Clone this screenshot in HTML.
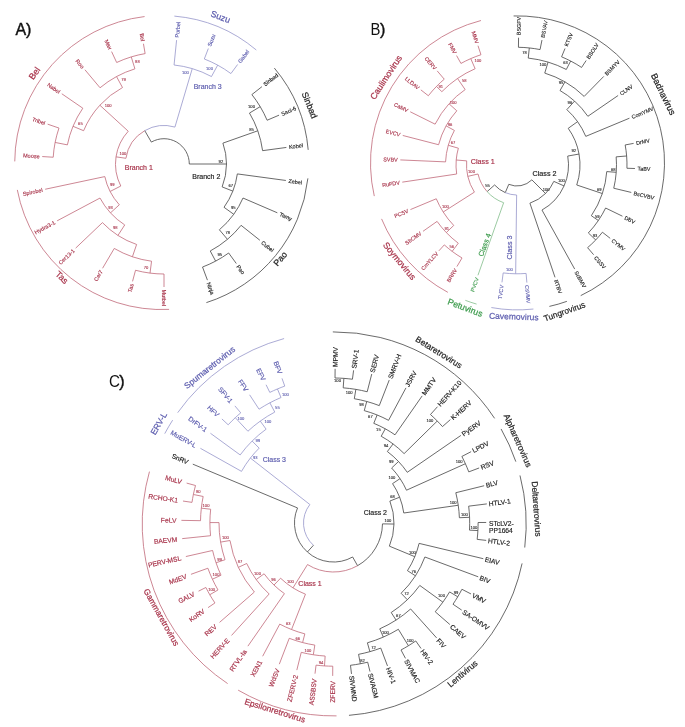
<!DOCTYPE html>
<html><head><meta charset="utf-8"><style>
html,body{margin:0;padding:0;background:#fff;}
svg{display:block;}
svg text{font-family:"Liberation Sans",Arial,sans-serif;}
</style></head><body>
<svg width="685" height="727" viewBox="0 0 685 727">
<rect width="685" height="727" fill="#fff"/>
<g fill="none" stroke-width="0.8">
<path d="M151.35,142.09A25.30,25.30 0 0 1 189.30,164.00" stroke="#444444"/>
<line x1="151.35" y1="142.09" x2="144.75" y2="130.66" stroke="#444444"/>
<path d="M144.75,130.66A38.50,38.50 0 0 0 125.92,158.31" stroke="#c06878"/>
<line x1="125.92" y1="158.31" x2="116.03" y2="156.83" stroke="#c06878"/>
<path d="M116.03,156.83A48.50,48.50 0 0 1 128.24,131.23" stroke="#c06878"/>
<line x1="128.24" y1="131.23" x2="99.86" y2="105.22" stroke="#c06878"/>
<path d="M99.86,105.22A87.00,87.00 0 0 1 122.49,87.54" stroke="#c06878"/>
<line x1="122.49" y1="87.54" x2="116.52" y2="76.56" stroke="#c06878"/>
<path d="M116.52,76.56A99.50,99.50 0 0 1 134.91,68.85" stroke="#c06878"/>
<line x1="134.91" y1="68.85" x2="131.25" y2="56.89" stroke="#c06878"/>
<path d="M131.25,56.89A112.00,112.00 0 0 1 145.13,53.60" stroke="#c06878"/>
<line x1="145.13" y1="53.60" x2="143.44" y2="43.74" stroke="#c06878"/>
<text x="143.01" y="41.18" font-size="5.5" fill="#a8334a" stroke="#a8334a" stroke-width="0.138" text-anchor="end" dominant-baseline="central" transform="rotate(80.3 143.01 41.18)">Bel</text>
<path d="M131.25,56.89A112.00,112.00 0 0 0 116.67,62.49" stroke="#c06878"/>
<line x1="116.67" y1="62.49" x2="111.60" y2="51.62" stroke="#c06878"/>
<text x="110.50" y="49.26" font-size="5.5" fill="#a8334a" stroke="#a8334a" stroke-width="0.138" text-anchor="end" dominant-baseline="central" transform="rotate(65.0 110.50 49.26)">Max</text>
<path d="M116.52,76.56A99.50,99.50 0 0 0 100.04,87.78" stroke="#c06878"/>
<line x1="100.04" y1="87.78" x2="84.94" y2="69.78" stroke="#c06878"/>
<text x="83.27" y="67.78" font-size="5.5" fill="#a8334a" stroke="#a8334a" stroke-width="0.138" text-anchor="end" dominant-baseline="central" transform="rotate(50.0 83.27 67.78)">Roo</text>
<path d="M99.86,105.22A87.00,87.00 0 0 0 83.62,130.71" stroke="#c06878"/>
<line x1="83.62" y1="130.71" x2="73.00" y2="126.31" stroke="#c06878"/>
<path d="M73.00,126.31A98.50,98.50 0 0 1 82.82,108.21" stroke="#c06878"/>
<line x1="82.82" y1="108.21" x2="61.81" y2="93.77" stroke="#c06878"/>
<text x="59.67" y="92.29" font-size="5.5" fill="#a8334a" stroke="#a8334a" stroke-width="0.138" text-anchor="end" dominant-baseline="central" transform="rotate(34.5 59.67 92.29)">Nabel</text>
<path d="M73.00,126.31A98.50,98.50 0 0 0 67.38,144.87" stroke="#c06878"/>
<line x1="67.38" y1="144.87" x2="55.11" y2="142.44" stroke="#c06878"/>
<path d="M55.11,142.44A111.00,111.00 0 0 1 58.98,128.05" stroke="#c06878"/>
<line x1="58.98" y1="128.05" x2="47.63" y2="124.16" stroke="#c06878"/>
<text x="45.17" y="123.32" font-size="5.5" fill="#a8334a" stroke="#a8334a" stroke-width="0.138" text-anchor="end" dominant-baseline="central" transform="rotate(18.9 45.17 123.32)">Tribel</text>
<path d="M55.11,142.44A111.00,111.00 0 0 0 53.21,157.22" stroke="#c06878"/>
<line x1="53.21" y1="157.22" x2="42.23" y2="156.55" stroke="#c06878"/>
<text x="39.63" y="156.39" font-size="5.5" fill="#a8334a" stroke="#a8334a" stroke-width="0.138" text-anchor="end" dominant-baseline="central" transform="rotate(3.5 39.63 156.39)">Moose</text>
<path d="M116.03,156.83A48.50,48.50 0 0 0 120.79,186.02" stroke="#c06878"/>
<line x1="120.79" y1="186.02" x2="110.09" y2="191.47" stroke="#c06878"/>
<path d="M110.09,191.47A60.50,60.50 0 0 1 104.82,176.58" stroke="#c06878"/>
<line x1="104.82" y1="176.58" x2="45.16" y2="189.26" stroke="#c06878"/>
<text x="42.61" y="189.80" font-size="5.5" fill="#a8334a" stroke="#a8334a" stroke-width="0.138" text-anchor="end" dominant-baseline="central" transform="rotate(348.0 42.61 189.80)">Spirobel</text>
<path d="M110.09,191.47A60.50,60.50 0 0 0 119.32,204.80" stroke="#c06878"/>
<line x1="119.32" y1="204.80" x2="110.46" y2="212.89" stroke="#c06878"/>
<path d="M110.46,212.89A72.50,72.50 0 0 1 99.99,198.04" stroke="#c06878"/>
<line x1="99.99" y1="198.04" x2="57.16" y2="220.81" stroke="#c06878"/>
<text x="54.87" y="222.03" font-size="5.5" fill="#a8334a" stroke="#a8334a" stroke-width="0.138" text-anchor="end" dominant-baseline="central" transform="rotate(332.0 54.87 222.03)">Hydra3-1</text>
<path d="M110.46,212.89A72.50,72.50 0 0 0 124.73,224.94" stroke="#c06878"/>
<line x1="124.73" y1="224.94" x2="117.95" y2="235.45" stroke="#c06878"/>
<path d="M117.95,235.45A85.00,85.00 0 0 1 102.45,222.62" stroke="#c06878"/>
<line x1="102.45" y1="222.62" x2="75.65" y2="248.13" stroke="#c06878"/>
<text x="73.77" y="249.93" font-size="5.5" fill="#a8334a" stroke="#a8334a" stroke-width="0.138" text-anchor="end" dominant-baseline="central" transform="rotate(316.4 73.77 249.93)">Cer13-1</text>
<path d="M117.95,235.45A85.00,85.00 0 0 0 136.61,244.47" stroke="#c06878"/>
<line x1="136.61" y1="244.47" x2="132.42" y2="256.77" stroke="#c06878"/>
<path d="M132.42,256.77A98.00,98.00 0 0 1 114.26,248.44" stroke="#c06878"/>
<line x1="114.26" y1="248.44" x2="102.59" y2="268.26" stroke="#c06878"/>
<text x="101.27" y="270.50" font-size="5.5" fill="#a8334a" stroke="#a8334a" stroke-width="0.138" text-anchor="end" dominant-baseline="central" transform="rotate(300.5 101.27 270.50)">Cer7</text>
<path d="M132.42,256.77A98.00,98.00 0 0 0 151.55,261.21" stroke="#c06878"/>
<line x1="151.55" y1="261.21" x2="150.02" y2="273.11" stroke="#c06878"/>
<path d="M150.02,273.11A110.00,110.00 0 0 1 135.53,270.25" stroke="#c06878"/>
<line x1="135.53" y1="270.25" x2="132.55" y2="281.36" stroke="#c06878"/>
<text x="131.88" y="283.87" font-size="5.5" fill="#a8334a" stroke="#a8334a" stroke-width="0.138" text-anchor="end" dominant-baseline="central" transform="rotate(285.0 131.88 283.87)">Tas</text>
<path d="M150.02,273.11A110.00,110.00 0 0 0 164.00,274.00" stroke="#c06878"/>
<line x1="164.00" y1="274.00" x2="164.00" y2="287.00" stroke="#c06878"/>
<text x="164.00" y="289.60" font-size="5.5" fill="#a8334a" stroke="#a8334a" stroke-width="0.138" text-anchor="start" dominant-baseline="central" transform="rotate(90.0 164.00 289.60)">Mutbel</text>
<path d="M144.75,130.66A38.50,38.50 0 0 1 174.93,127.09" stroke="#9696ca"/>
<line x1="174.93" y1="127.09" x2="192.26" y2="68.60" stroke="#9696ca"/>
<path d="M192.26,68.60A99.50,99.50 0 0 0 174.06,65.01" stroke="#9696ca"/>
<line x1="174.06" y1="65.01" x2="176.58" y2="40.14" stroke="#9696ca"/>
<text x="176.84" y="37.55" font-size="5.5" fill="#5c5cae" stroke="#5c5cae" stroke-width="0.138" text-anchor="start" dominant-baseline="central" transform="rotate(-84.2 176.84 37.55)">Purbel</text>
<path d="M192.26,68.60A99.50,99.50 0 0 1 211.48,76.56" stroke="#9696ca"/>
<line x1="211.48" y1="76.56" x2="217.68" y2="65.13" stroke="#9696ca"/>
<path d="M217.68,65.13A112.50,112.50 0 0 0 204.32,58.97" stroke="#9696ca"/>
<line x1="204.32" y1="58.97" x2="208.33" y2="48.52" stroke="#9696ca"/>
<text x="209.26" y="46.09" font-size="5.5" fill="#5c5cae" stroke="#5c5cae" stroke-width="0.138" text-anchor="start" dominant-baseline="central" transform="rotate(-69.0 209.26 46.09)">Suzu</text>
<path d="M217.68,65.13A112.50,112.50 0 0 1 230.92,73.57" stroke="#9696ca"/>
<line x1="230.92" y1="73.57" x2="237.64" y2="64.48" stroke="#9696ca"/>
<text x="239.19" y="62.39" font-size="5.5" fill="#5c5cae" stroke="#5c5cae" stroke-width="0.138" text-anchor="start" dominant-baseline="central" transform="rotate(-53.5 239.19 62.39)">Gabel</text>
<line x1="189.30" y1="164.00" x2="226.50" y2="164.00" stroke="#444444"/>
<path d="M226.50,164.00A62.50,62.50 0 0 0 222.92,143.14" stroke="#444444"/>
<line x1="222.92" y1="143.14" x2="257.79" y2="130.79" stroke="#444444"/>
<path d="M257.79,130.79A99.50,99.50 0 0 0 249.47,113.05" stroke="#444444"/>
<line x1="249.47" y1="113.05" x2="260.20" y2="106.65" stroke="#444444"/>
<path d="M260.20,106.65A112.00,112.00 0 0 0 251.89,94.58" stroke="#444444"/>
<line x1="251.89" y1="94.58" x2="261.94" y2="86.65" stroke="#444444"/>
<text x="263.98" y="85.04" font-size="5.5" fill="#1e1e1e" stroke="#1e1e1e" stroke-width="0.138" text-anchor="start" dominant-baseline="central" transform="rotate(-38.3 263.98 85.04)">Sinbad</text>
<path d="M260.20,106.65A112.00,112.00 0 0 1 267.10,120.24" stroke="#444444"/>
<line x1="267.10" y1="120.24" x2="279.06" y2="115.16" stroke="#444444"/>
<text x="281.46" y="114.14" font-size="5.5" fill="#1e1e1e" stroke="#1e1e1e" stroke-width="0.138" text-anchor="start" dominant-baseline="central" transform="rotate(-23.0 281.46 114.14)">Saci-6</text>
<path d="M257.79,130.79A99.50,99.50 0 0 1 262.60,150.67" stroke="#444444"/>
<line x1="262.60" y1="150.67" x2="286.39" y2="147.45" stroke="#444444"/>
<text x="288.96" y="147.10" font-size="5.5" fill="#1e1e1e" stroke="#1e1e1e" stroke-width="0.138" text-anchor="start" dominant-baseline="central" transform="rotate(-7.7 288.96 147.10)">Kobel</text>
<path d="M226.50,164.00A62.50,62.50 0 0 1 222.15,186.91" stroke="#444444"/>
<line x1="222.15" y1="186.91" x2="232.85" y2="191.12" stroke="#444444"/>
<path d="M232.85,191.12A74.00,74.00 0 0 0 237.33,173.91" stroke="#444444"/>
<line x1="237.33" y1="173.91" x2="285.89" y2="180.48" stroke="#444444"/>
<text x="288.47" y="180.83" font-size="5.5" fill="#1e1e1e" stroke="#1e1e1e" stroke-width="0.138" text-anchor="start" dominant-baseline="central" transform="rotate(7.7 288.47 180.83)">Zebel</text>
<path d="M232.85,191.12A74.00,74.00 0 0 1 224.02,207.29" stroke="#444444"/>
<line x1="224.02" y1="207.29" x2="233.75" y2="214.31" stroke="#444444"/>
<path d="M233.75,214.31A86.00,86.00 0 0 0 242.99,198.02" stroke="#444444"/>
<line x1="242.99" y1="198.02" x2="277.34" y2="212.81" stroke="#444444"/>
<text x="279.72" y="213.84" font-size="5.5" fill="#1e1e1e" stroke="#1e1e1e" stroke-width="0.138" text-anchor="start" dominant-baseline="central" transform="rotate(23.3 279.72 213.84)">Tamy</text>
<path d="M233.75,214.31A86.00,86.00 0 0 1 219.39,229.78" stroke="#444444"/>
<line x1="219.39" y1="229.78" x2="227.45" y2="239.34" stroke="#444444"/>
<path d="M227.45,239.34A98.50,98.50 0 0 0 241.09,225.32" stroke="#444444"/>
<line x1="241.09" y1="225.32" x2="259.87" y2="240.26" stroke="#444444"/>
<text x="261.90" y="241.88" font-size="5.5" fill="#1e1e1e" stroke="#1e1e1e" stroke-width="0.138" text-anchor="start" dominant-baseline="central" transform="rotate(38.5 261.90 241.88)">Cubel</text>
<path d="M227.45,239.34A98.50,98.50 0 0 1 210.24,250.97" stroke="#444444"/>
<line x1="210.24" y1="250.97" x2="215.64" y2="261.12" stroke="#444444"/>
<path d="M215.64,261.12A110.00,110.00 0 0 0 228.66,252.99" stroke="#444444"/>
<line x1="228.66" y1="252.99" x2="236.30" y2="263.51" stroke="#444444"/>
<text x="237.83" y="265.61" font-size="5.5" fill="#1e1e1e" stroke="#1e1e1e" stroke-width="0.138" text-anchor="start" dominant-baseline="central" transform="rotate(54.0 237.83 265.61)">Pao</text>
<path d="M215.64,261.12A110.00,110.00 0 0 1 202.52,267.03" stroke="#444444"/>
<line x1="202.52" y1="267.03" x2="207.43" y2="280.15" stroke="#444444"/>
<text x="208.34" y="282.58" font-size="5.5" fill="#1e1e1e" stroke="#1e1e1e" stroke-width="0.138" text-anchor="start" dominant-baseline="central" transform="rotate(69.5 208.34 282.58)">Ninja</text>
<path d="M14.75,161.40A147.00,147.00 0 0 1 144.59,16.56" stroke="#c06878"/>
<path d="M17.32,189.91A147.00,147.00 0 0 0 169.08,309.38" stroke="#c06878"/>
<path d="M174.35,16.10A147.00,147.00 0 0 1 256.30,50.00" stroke="#9696ca"/>
<path d="M274.37,68.08A147.00,147.00 0 0 1 308.20,149.85" stroke="#444444"/>
<path d="M307.90,178.36A147.00,147.00 0 0 1 206.38,302.62" stroke="#444444"/>
<text x="34.57" y="73.37" font-size="8.9" fill="#a8334a" stroke="#a8334a" stroke-width="0.223" text-anchor="middle" dominant-baseline="central" transform="rotate(-55.0 34.57 73.37)">Bel</text>
<text x="61.80" y="277.50" font-size="8.9" fill="#a8334a" stroke="#a8334a" stroke-width="0.223" text-anchor="middle" dominant-baseline="central" transform="rotate(42.0 61.80 277.50)">Tas</text>
<text x="220.44" y="16.96" font-size="8.9" fill="#5c5cae" stroke="#5c5cae" stroke-width="0.223" text-anchor="middle" dominant-baseline="central" transform="rotate(21.0 220.44 16.96)">Suzu</text>
<text x="309.57" y="105.19" font-size="8.9" fill="#1e1e1e" stroke="#1e1e1e" stroke-width="0.223" text-anchor="middle" dominant-baseline="central" transform="rotate(68.0 309.57 105.19)">Sinbad</text>
<text x="280.30" y="258.80" font-size="8.9" fill="#1e1e1e" stroke="#1e1e1e" stroke-width="0.223" text-anchor="middle" dominant-baseline="central" transform="rotate(-50.0 280.30 258.80)">Pao</text>
<text x="137.40" y="61.60" font-size="4.1" fill="#a8334a" stroke="#a8334a" stroke-width="0.102" text-anchor="middle" dominant-baseline="central">88</text>
<text x="123.50" y="79.90" font-size="4.1" fill="#a8334a" stroke="#a8334a" stroke-width="0.102" text-anchor="middle" dominant-baseline="central">79</text>
<text x="108.20" y="105.40" font-size="4.1" fill="#a8334a" stroke="#a8334a" stroke-width="0.102" text-anchor="middle" dominant-baseline="central">100</text>
<text x="80.40" y="123.80" font-size="4.1" fill="#a8334a" stroke="#a8334a" stroke-width="0.102" text-anchor="middle" dominant-baseline="central">65</text>
<text x="122.80" y="153.00" font-size="4.1" fill="#a8334a" stroke="#a8334a" stroke-width="0.102" text-anchor="middle" dominant-baseline="central">100</text>
<text x="112.30" y="184.80" font-size="4.1" fill="#a8334a" stroke="#a8334a" stroke-width="0.102" text-anchor="middle" dominant-baseline="central">99</text>
<text x="110.50" y="207.00" font-size="4.1" fill="#a8334a" stroke="#a8334a" stroke-width="0.102" text-anchor="middle" dominant-baseline="central">93</text>
<text x="115.20" y="227.90" font-size="4.1" fill="#a8334a" stroke="#a8334a" stroke-width="0.102" text-anchor="middle" dominant-baseline="central">98</text>
<text x="146.00" y="267.70" font-size="4.1" fill="#a8334a" stroke="#a8334a" stroke-width="0.102" text-anchor="middle" dominant-baseline="central">70</text>
<text x="185.40" y="72.80" font-size="4.1" fill="#5c5cae" stroke="#5c5cae" stroke-width="0.102" text-anchor="middle" dominant-baseline="central">100</text>
<text x="209.50" y="68.10" font-size="4.1" fill="#5c5cae" stroke="#5c5cae" stroke-width="0.102" text-anchor="middle" dominant-baseline="central">100</text>
<text x="251.50" y="106.40" font-size="4.1" fill="#1e1e1e" stroke="#1e1e1e" stroke-width="0.102" text-anchor="middle" dominant-baseline="central">100</text>
<text x="251.50" y="129.30" font-size="4.1" fill="#1e1e1e" stroke="#1e1e1e" stroke-width="0.102" text-anchor="middle" dominant-baseline="central">85</text>
<text x="220.90" y="161.00" font-size="4.1" fill="#1e1e1e" stroke="#1e1e1e" stroke-width="0.102" text-anchor="middle" dominant-baseline="central">92</text>
<text x="230.70" y="185.10" font-size="4.1" fill="#1e1e1e" stroke="#1e1e1e" stroke-width="0.102" text-anchor="middle" dominant-baseline="central">67</text>
<text x="233.30" y="207.90" font-size="4.1" fill="#1e1e1e" stroke="#1e1e1e" stroke-width="0.102" text-anchor="middle" dominant-baseline="central">95</text>
<text x="227.70" y="232.70" font-size="4.1" fill="#1e1e1e" stroke="#1e1e1e" stroke-width="0.102" text-anchor="middle" dominant-baseline="central">78</text>
<text x="219.70" y="254.90" font-size="4.1" fill="#1e1e1e" stroke="#1e1e1e" stroke-width="0.102" text-anchor="middle" dominant-baseline="central">95</text>
<text x="15.50" y="34.60" font-size="16" fill="#111" stroke="#111" stroke-width="0.400" text-anchor="start" dominant-baseline="auto">A</text>
<text x="26.00" y="34.60" font-size="16" fill="#111" stroke="#111" stroke-width="0.400" text-anchor="start" dominant-baseline="auto">)</text>
<text x="138.80" y="167.50" font-size="7" fill="#a8334a" stroke="#a8334a" stroke-width="0.175" text-anchor="middle" dominant-baseline="central">Branch 1</text>
<text x="206.30" y="176.70" font-size="7" fill="#1e1e1e" stroke="#1e1e1e" stroke-width="0.175" text-anchor="middle" dominant-baseline="central">Branch 2</text>
<text x="207.70" y="86.60" font-size="7" fill="#5c5cae" stroke="#5c5cae" stroke-width="0.175" text-anchor="middle" dominant-baseline="central">Branch 3</text>
<path d="M508.79,184.33A21.00,21.00 0 0 0 531.85,179.85" stroke="#444444"/>
<line x1="508.79" y1="184.33" x2="505.28" y2="192.62" stroke="#444444"/>
<path d="M505.28,192.62A30.00,30.00 0 0 1 494.60,184.96" stroke="#444444"/>
<line x1="494.60" y1="184.96" x2="487.13" y2="191.61" stroke="#444444"/>
<path d="M487.13,191.61A40.00,40.00 0 0 1 478.03,174.00" stroke="#c06878"/>
<line x1="478.03" y1="174.00" x2="467.79" y2="176.36" stroke="#c06878"/>
<path d="M467.79,176.36A50.50,50.50 0 0 1 466.67,160.86" stroke="#c06878"/>
<line x1="466.67" y1="160.86" x2="456.21" y2="160.00" stroke="#c06878"/>
<path d="M456.21,160.00A61.00,61.00 0 0 1 458.36,148.19" stroke="#c06878"/>
<line x1="458.36" y1="148.19" x2="448.27" y2="145.29" stroke="#c06878"/>
<path d="M448.27,145.29A71.50,71.50 0 0 1 454.40,130.45" stroke="#c06878"/>
<line x1="454.40" y1="130.45" x2="446.09" y2="125.85" stroke="#c06878"/>
<path d="M446.09,125.85A81.00,81.00 0 0 1 456.81,110.80" stroke="#c06878"/>
<line x1="456.81" y1="110.80" x2="449.00" y2="103.77" stroke="#c06878"/>
<path d="M449.00,103.77A91.50,91.50 0 0 1 465.17,89.59" stroke="#c06878"/>
<line x1="465.17" y1="89.59" x2="457.53" y2="78.47" stroke="#c06878"/>
<path d="M457.53,78.47A105.00,105.00 0 0 1 475.13,68.71" stroke="#c06878"/>
<line x1="475.13" y1="68.71" x2="470.75" y2="58.62" stroke="#c06878"/>
<path d="M470.75,58.62A116.00,116.00 0 0 1 480.96,54.74" stroke="#c06878"/>
<line x1="480.96" y1="54.74" x2="478.01" y2="45.71" stroke="#c06878"/>
<text x="477.20" y="43.24" font-size="5.4" fill="#a8334a" stroke="#a8334a" stroke-width="0.135" text-anchor="end" dominant-baseline="central" transform="rotate(71.9 477.20 43.24)">MMV</text>
<path d="M470.75,58.62A116.00,116.00 0 0 0 460.94,63.45" stroke="#c06878"/>
<line x1="460.94" y1="63.45" x2="456.59" y2="55.57" stroke="#c06878"/>
<text x="455.33" y="53.29" font-size="5.4" fill="#a8334a" stroke="#a8334a" stroke-width="0.135" text-anchor="end" dominant-baseline="central" transform="rotate(61.1 455.33 53.29)">FMV</text>
<path d="M457.53,78.47A105.00,105.00 0 0 0 441.85,91.67" stroke="#c06878"/>
<line x1="441.85" y1="91.67" x2="436.48" y2="86.43" stroke="#c06878"/>
<path d="M436.48,86.43A112.50,112.50 0 0 1 444.24,79.20" stroke="#c06878"/>
<line x1="444.24" y1="79.20" x2="437.19" y2="70.89" stroke="#c06878"/>
<text x="435.50" y="68.90" font-size="5.4" fill="#a8334a" stroke="#a8334a" stroke-width="0.135" text-anchor="end" dominant-baseline="central" transform="rotate(49.7 435.50 68.90)">CERV</text>
<path d="M436.48,86.43A112.50,112.50 0 0 0 428.35,95.74" stroke="#c06878"/>
<line x1="428.35" y1="95.74" x2="420.86" y2="89.89" stroke="#c06878"/>
<text x="418.81" y="88.29" font-size="5.4" fill="#a8334a" stroke="#a8334a" stroke-width="0.135" text-anchor="end" dominant-baseline="central" transform="rotate(38.0 418.81 88.29)">LLDAV</text>
<path d="M449.00,103.77A91.50,91.50 0 0 0 435.11,124.17" stroke="#c06878"/>
<line x1="435.11" y1="124.17" x2="410.23" y2="111.77" stroke="#c06878"/>
<text x="407.91" y="110.61" font-size="5.4" fill="#a8334a" stroke="#a8334a" stroke-width="0.135" text-anchor="end" dominant-baseline="central" transform="rotate(26.5 407.91 110.61)">CaMV</text>
<path d="M446.09,125.85A81.00,81.00 0 0 0 438.58,144.72" stroke="#c06878"/>
<line x1="438.58" y1="144.72" x2="402.76" y2="135.46" stroke="#c06878"/>
<text x="400.24" y="134.80" font-size="5.4" fill="#a8334a" stroke="#a8334a" stroke-width="0.135" text-anchor="end" dominant-baseline="central" transform="rotate(14.5 400.24 134.80)">EVCV</text>
<path d="M448.27,145.29A71.50,71.50 0 0 0 445.57,161.88" stroke="#c06878"/>
<line x1="445.57" y1="161.88" x2="400.31" y2="159.91" stroke="#c06878"/>
<text x="397.71" y="159.79" font-size="5.4" fill="#a8334a" stroke="#a8334a" stroke-width="0.135" text-anchor="end" dominant-baseline="central" transform="rotate(2.5 397.71 159.79)">SVBV</text>
<path d="M456.21,160.00A61.00,61.00 0 0 0 456.67,174.02" stroke="#c06878"/>
<line x1="456.67" y1="174.02" x2="402.27" y2="182.15" stroke="#c06878"/>
<text x="399.70" y="182.53" font-size="5.4" fill="#a8334a" stroke="#a8334a" stroke-width="0.135" text-anchor="end" dominant-baseline="central" transform="rotate(351.5 399.70 182.53)">RuFDV</text>
<path d="M467.79,176.36A50.50,50.50 0 0 0 474.41,192.13" stroke="#c06878"/>
<line x1="474.41" y1="192.13" x2="443.20" y2="212.01" stroke="#c06878"/>
<path d="M443.20,212.01A87.50,87.50 0 0 1 436.28,198.77" stroke="#c06878"/>
<line x1="436.28" y1="198.77" x2="410.45" y2="209.57" stroke="#c06878"/>
<text x="408.05" y="210.58" font-size="5.4" fill="#a8334a" stroke="#a8334a" stroke-width="0.135" text-anchor="end" dominant-baseline="central" transform="rotate(337.3 408.05 210.58)">PCSV</text>
<path d="M443.20,212.01A87.50,87.50 0 0 0 453.74,225.45" stroke="#c06878"/>
<line x1="453.74" y1="225.45" x2="446.29" y2="232.57" stroke="#c06878"/>
<path d="M446.29,232.57A97.80,97.80 0 0 1 437.08,221.38" stroke="#c06878"/>
<line x1="437.08" y1="221.38" x2="423.03" y2="231.29" stroke="#c06878"/>
<text x="420.90" y="232.79" font-size="5.4" fill="#a8334a" stroke="#a8334a" stroke-width="0.135" text-anchor="end" dominant-baseline="central" transform="rotate(324.8 420.90 232.79)">SbCMV</text>
<path d="M446.29,232.57A97.80,97.80 0 0 0 458.28,243.21" stroke="#c06878"/>
<line x1="458.28" y1="243.21" x2="452.15" y2="251.37" stroke="#c06878"/>
<path d="M452.15,251.37A108.00,108.00 0 0 1 444.31,244.88" stroke="#c06878"/>
<line x1="444.31" y1="244.88" x2="438.93" y2="250.80" stroke="#c06878"/>
<text x="437.18" y="252.72" font-size="5.4" fill="#a8334a" stroke="#a8334a" stroke-width="0.135" text-anchor="end" dominant-baseline="central" transform="rotate(312.3 437.18 252.72)">CmYLCV</text>
<path d="M452.15,251.37A108.00,108.00 0 0 0 462.02,257.96" stroke="#c06878"/>
<line x1="462.02" y1="257.96" x2="456.93" y2="266.57" stroke="#c06878"/>
<text x="455.61" y="268.81" font-size="5.4" fill="#a8334a" stroke="#a8334a" stroke-width="0.135" text-anchor="end" dominant-baseline="central" transform="rotate(300.6 455.61 268.81)">BRRV</text>
<path d="M487.13,191.61A40.00,40.00 0 0 0 503.65,202.71" stroke="#82bc8a"/>
<line x1="503.65" y1="202.71" x2="477.94" y2="275.29" stroke="#82bc8a"/>
<text x="477.08" y="277.74" font-size="5.4" fill="#3a9a4a" stroke="#3a9a4a" stroke-width="0.135" text-anchor="end" dominant-baseline="central" transform="rotate(289.5 477.08 277.74)">PVCV</text>
<path d="M505.28,192.62A30.00,30.00 0 0 0 516.63,195.00" stroke="#9696ca"/>
<line x1="516.63" y1="195.00" x2="515.67" y2="273.79" stroke="#9696ca"/>
<path d="M515.67,273.79A108.80,108.80 0 0 1 503.18,272.92" stroke="#9696ca"/>
<line x1="503.18" y1="272.92" x2="501.97" y2="282.34" stroke="#9696ca"/>
<text x="501.64" y="284.92" font-size="5.4" fill="#5c5cae" stroke="#5c5cae" stroke-width="0.135" text-anchor="end" dominant-baseline="central" transform="rotate(277.3 501.64 284.92)">TVCV</text>
<path d="M515.67,273.79A108.80,108.80 0 0 0 526.10,273.42" stroke="#9696ca"/>
<line x1="526.10" y1="273.42" x2="526.87" y2="282.59" stroke="#9696ca"/>
<text x="527.09" y="285.18" font-size="5.4" fill="#5c5cae" stroke="#5c5cae" stroke-width="0.135" text-anchor="start" dominant-baseline="central" transform="rotate(85.2 527.09 285.18)">CsVMV</text>
<line x1="531.85" y1="179.85" x2="545.50" y2="193.50" stroke="#444444"/>
<path d="M545.50,193.50A40.30,40.30 0 0 1 529.92,203.17" stroke="#444444"/>
<line x1="529.92" y1="203.17" x2="555.02" y2="277.34" stroke="#444444"/>
<text x="555.86" y="279.80" font-size="5.4" fill="#1e1e1e" stroke="#1e1e1e" stroke-width="0.135" text-anchor="start" dominant-baseline="central" transform="rotate(71.3 555.86 279.80)">RTBV</text>
<path d="M545.50,193.50A40.30,40.30 0 0 0 553.82,181.39" stroke="#444444"/>
<line x1="553.82" y1="181.39" x2="564.05" y2="185.95" stroke="#444444"/>
<path d="M564.05,185.95A51.50,51.50 0 0 1 541.97,210.04" stroke="#444444"/>
<line x1="541.97" y1="210.04" x2="574.69" y2="269.08" stroke="#444444"/>
<text x="575.95" y="271.35" font-size="5.4" fill="#1e1e1e" stroke="#1e1e1e" stroke-width="0.135" text-anchor="start" dominant-baseline="central" transform="rotate(61.0 575.95 271.35)">ScBMV</text>
<path d="M564.05,185.95A51.50,51.50 0 0 0 567.72,156.06" stroke="#444444"/>
<line x1="567.72" y1="156.06" x2="579.04" y2="154.06" stroke="#444444"/>
<path d="M579.04,154.06A63.00,63.00 0 0 0 568.23,128.33" stroke="#444444"/>
<line x1="568.23" y1="128.33" x2="577.58" y2="121.63" stroke="#444444"/>
<path d="M577.58,121.63A74.50,74.50 0 0 0 566.85,109.64" stroke="#444444"/>
<line x1="566.85" y1="109.64" x2="574.55" y2="101.09" stroke="#444444"/>
<path d="M574.55,101.09A86.00,86.00 0 0 0 560.00,90.52" stroke="#444444"/>
<line x1="560.00" y1="90.52" x2="565.00" y2="81.86" stroke="#444444"/>
<path d="M565.00,81.86A96.00,96.00 0 0 0 544.75,73.10" stroke="#444444"/>
<line x1="544.75" y1="73.10" x2="548.07" y2="62.09" stroke="#444444"/>
<path d="M548.07,62.09A107.50,107.50 0 0 0 528.24,58.09" stroke="#444444"/>
<line x1="528.24" y1="58.09" x2="529.30" y2="47.94" stroke="#444444"/>
<path d="M529.30,47.94A117.70,117.70 0 0 0 518.44,47.31" stroke="#444444"/>
<line x1="518.44" y1="47.31" x2="518.56" y2="37.71" stroke="#444444"/>
<text x="518.59" y="35.11" font-size="5.4" fill="#1e1e1e" stroke="#1e1e1e" stroke-width="0.135" text-anchor="start" dominant-baseline="central" transform="rotate(-89.3 518.59 35.11)">BSGFV</text>
<path d="M529.30,47.94A117.70,117.70 0 0 1 540.06,49.58" stroke="#444444"/>
<line x1="540.06" y1="49.58" x2="541.96" y2="40.07" stroke="#444444"/>
<text x="542.47" y="37.52" font-size="5.4" fill="#1e1e1e" stroke="#1e1e1e" stroke-width="0.135" text-anchor="start" dominant-baseline="central" transform="rotate(-78.7 542.47 37.52)">BSVAV</text>
<path d="M548.07,62.09A107.50,107.50 0 0 1 566.30,69.47" stroke="#444444"/>
<line x1="566.30" y1="69.47" x2="570.66" y2="61.03" stroke="#444444"/>
<path d="M570.66,61.03A117.00,117.00 0 0 0 561.59,56.83" stroke="#444444"/>
<line x1="561.59" y1="56.83" x2="565.01" y2="48.51" stroke="#444444"/>
<text x="566.01" y="46.10" font-size="5.4" fill="#1e1e1e" stroke="#1e1e1e" stroke-width="0.135" text-anchor="start" dominant-baseline="central" transform="rotate(-67.6 566.01 46.10)">KTSV</text>
<path d="M570.66,61.03A117.00,117.00 0 0 1 581.58,67.44" stroke="#444444"/>
<line x1="581.58" y1="67.44" x2="586.16" y2="60.51" stroke="#444444"/>
<text x="587.59" y="58.35" font-size="5.4" fill="#1e1e1e" stroke="#1e1e1e" stroke-width="0.135" text-anchor="start" dominant-baseline="central" transform="rotate(-56.5 587.59 58.35)">BSOLV</text>
<path d="M565.00,81.86A96.00,96.00 0 0 1 584.17,96.41" stroke="#444444"/>
<line x1="584.17" y1="96.41" x2="603.76" y2="76.41" stroke="#444444"/>
<text x="605.58" y="74.55" font-size="5.4" fill="#1e1e1e" stroke="#1e1e1e" stroke-width="0.135" text-anchor="start" dominant-baseline="central" transform="rotate(-45.6 605.58 74.55)">BSMYV</text>
<path d="M574.55,101.09A86.00,86.00 0 0 1 587.87,116.29" stroke="#444444"/>
<line x1="587.87" y1="116.29" x2="618.12" y2="95.50" stroke="#444444"/>
<text x="620.26" y="94.03" font-size="5.4" fill="#1e1e1e" stroke="#1e1e1e" stroke-width="0.135" text-anchor="start" dominant-baseline="central" transform="rotate(-34.5 620.26 94.03)">CLNV</text>
<path d="M577.58,121.63A74.50,74.50 0 0 1 585.78,136.37" stroke="#444444"/>
<line x1="585.78" y1="136.37" x2="629.45" y2="118.19" stroke="#444444"/>
<text x="631.85" y="117.19" font-size="5.4" fill="#1e1e1e" stroke="#1e1e1e" stroke-width="0.135" text-anchor="start" dominant-baseline="central" transform="rotate(-22.6 631.85 117.19)">ComYMV</text>
<path d="M579.04,154.06A63.00,63.00 0 0 1 576.74,184.99" stroke="#444444"/>
<line x1="576.74" y1="184.99" x2="602.35" y2="193.56" stroke="#444444"/>
<path d="M602.35,193.56A90.00,90.00 0 0 0 606.76,171.59" stroke="#444444"/>
<line x1="606.76" y1="171.59" x2="616.23" y2="172.29" stroke="#444444"/>
<path d="M616.23,172.29A99.50,99.50 0 0 0 616.17,156.85" stroke="#444444"/>
<line x1="616.17" y1="156.85" x2="626.63" y2="155.99" stroke="#444444"/>
<path d="M626.63,155.99A110.00,110.00 0 0 0 625.16,144.95" stroke="#444444"/>
<line x1="625.16" y1="144.95" x2="633.61" y2="143.39" stroke="#444444"/>
<text x="636.17" y="142.91" font-size="5.4" fill="#1e1e1e" stroke="#1e1e1e" stroke-width="0.135" text-anchor="start" dominant-baseline="central" transform="rotate(-10.5 636.17 142.91)">DrMV</text>
<path d="M626.63,155.99A110.00,110.00 0 0 1 626.95,168.26" stroke="#444444"/>
<line x1="626.95" y1="168.26" x2="634.95" y2="168.50" stroke="#444444"/>
<text x="637.55" y="168.58" font-size="5.4" fill="#1e1e1e" stroke="#1e1e1e" stroke-width="0.135" text-anchor="start" dominant-baseline="central" transform="rotate(1.7 637.55 168.58)">TaBV</text>
<path d="M616.23,172.29A99.50,99.50 0 0 1 613.75,188.23" stroke="#444444"/>
<line x1="613.75" y1="188.23" x2="631.25" y2="192.43" stroke="#444444"/>
<text x="633.78" y="193.04" font-size="5.4" fill="#1e1e1e" stroke="#1e1e1e" stroke-width="0.135" text-anchor="start" dominant-baseline="central" transform="rotate(13.5 633.78 193.04)">BsCVBV</text>
<path d="M602.35,193.56A90.00,90.00 0 0 1 591.35,215.72" stroke="#444444"/>
<line x1="591.35" y1="215.72" x2="598.37" y2="220.51" stroke="#444444"/>
<path d="M598.37,220.51A98.50,98.50 0 0 0 605.61,208.02" stroke="#444444"/>
<line x1="605.61" y1="208.02" x2="622.43" y2="216.19" stroke="#444444"/>
<text x="624.77" y="217.33" font-size="5.4" fill="#1e1e1e" stroke="#1e1e1e" stroke-width="0.135" text-anchor="start" dominant-baseline="central" transform="rotate(25.9 624.77 217.33)">DBV</text>
<path d="M598.37,220.51A98.50,98.50 0 0 1 588.33,232.93" stroke="#444444"/>
<line x1="588.33" y1="232.93" x2="595.72" y2="239.96" stroke="#444444"/>
<path d="M595.72,239.96A108.70,108.70 0 0 0 602.42,232.22" stroke="#444444"/>
<line x1="602.42" y1="232.22" x2="610.20" y2="238.34" stroke="#444444"/>
<text x="612.25" y="239.95" font-size="5.4" fill="#1e1e1e" stroke="#1e1e1e" stroke-width="0.135" text-anchor="start" dominant-baseline="central" transform="rotate(38.2 612.25 239.95)">CYMV</text>
<path d="M595.72,239.96A108.70,108.70 0 0 1 587.60,247.66" stroke="#444444"/>
<line x1="587.60" y1="247.66" x2="593.63" y2="254.73" stroke="#444444"/>
<text x="595.32" y="256.70" font-size="5.4" fill="#1e1e1e" stroke="#1e1e1e" stroke-width="0.135" text-anchor="start" dominant-baseline="central" transform="rotate(49.5 595.32 256.70)">CSSV</text>
<path d="M480.97,20.51A147.00,147.00 0 0 0 374.29,196.08" stroke="#c06878"/>
<path d="M381.58,218.90A147.00,147.00 0 0 0 447.85,292.35" stroke="#c06878"/>
<path d="M465.32,300.33A147.00,147.00 0 0 0 476.59,304.09" stroke="#82bc8a"/>
<path d="M491.35,307.56A147.00,147.00 0 0 0 533.41,309.04" stroke="#9696ca"/>
<path d="M549.38,306.40A147.00,147.00 0 0 0 566.89,301.35" stroke="#444444"/>
<path d="M513.62,15.95A147.00,147.00 0 0 1 580.73,295.61" stroke="#444444"/>
<text x="386.00" y="77.40" font-size="8.8" fill="#a8334a" stroke="#a8334a" stroke-width="0.220" text-anchor="middle" dominant-baseline="central" transform="rotate(-57.0 386.00 77.40)">Caulimovirus</text>
<text x="399.40" y="261.00" font-size="8.8" fill="#a8334a" stroke="#a8334a" stroke-width="0.220" text-anchor="middle" dominant-baseline="central" transform="rotate(50.3 399.40 261.00)">Soymovirus</text>
<text x="465.20" y="307.70" font-size="8.8" fill="#3a9a4a" stroke="#3a9a4a" stroke-width="0.220" text-anchor="middle" dominant-baseline="central" transform="rotate(20.5 465.20 307.70)">Petuvirus</text>
<text x="513.80" y="316.50" font-size="8.5" fill="#5c5cae" stroke="#5c5cae" stroke-width="0.213" text-anchor="middle" dominant-baseline="central" transform="rotate(2.0 513.80 316.50)">Cavemovirus</text>
<text x="564.50" y="311.40" font-size="8.3" fill="#1e1e1e" stroke="#1e1e1e" stroke-width="0.208" text-anchor="middle" dominant-baseline="central" transform="rotate(-19.5 564.50 311.40)">Tungrovirus</text>
<text x="663.20" y="94.30" font-size="9" fill="#1e1e1e" stroke="#1e1e1e" stroke-width="0.225" text-anchor="middle" dominant-baseline="central" transform="rotate(64.0 663.20 94.30)">Badnavirus</text>
<text x="482.80" y="161.50" font-size="7.2" fill="#a8334a" stroke="#a8334a" stroke-width="0.180" text-anchor="middle" dominant-baseline="central">Class 1</text>
<text x="544.50" y="173.30" font-size="7.2" fill="#1e1e1e" stroke="#1e1e1e" stroke-width="0.180" text-anchor="middle" dominant-baseline="central">Class 2</text>
<text x="509.40" y="247.50" font-size="7.2" fill="#5c5cae" stroke="#5c5cae" stroke-width="0.180" text-anchor="middle" dominant-baseline="central" transform="rotate(-90.0 509.40 247.50)">Class 3</text>
<text x="484.60" y="245.00" font-size="7.2" fill="#3a9a4a" stroke="#3a9a4a" stroke-width="0.180" text-anchor="middle" dominant-baseline="central" transform="rotate(-70.0 484.60 245.00)">Class 4</text>
<text x="477.90" y="60.90" font-size="4.1" fill="#a8334a" stroke="#a8334a" stroke-width="0.102" text-anchor="middle" dominant-baseline="central">100</text>
<text x="464.30" y="80.20" font-size="4.1" fill="#a8334a" stroke="#a8334a" stroke-width="0.102" text-anchor="middle" dominant-baseline="central">58</text>
<text x="440.70" y="86.40" font-size="4.1" fill="#a8334a" stroke="#a8334a" stroke-width="0.102" text-anchor="middle" dominant-baseline="central">91</text>
<text x="453.10" y="102.90" font-size="4.1" fill="#a8334a" stroke="#a8334a" stroke-width="0.102" text-anchor="middle" dominant-baseline="central">100</text>
<text x="450.10" y="124.10" font-size="4.1" fill="#a8334a" stroke="#a8334a" stroke-width="0.102" text-anchor="middle" dominant-baseline="central">96</text>
<text x="453.00" y="142.80" font-size="4.1" fill="#a8334a" stroke="#a8334a" stroke-width="0.102" text-anchor="middle" dominant-baseline="central">67</text>
<text x="471.50" y="171.60" font-size="4.1" fill="#a8334a" stroke="#a8334a" stroke-width="0.102" text-anchor="middle" dominant-baseline="central">100</text>
<text x="487.60" y="185.00" font-size="4.1" fill="#1e1e1e" stroke="#1e1e1e" stroke-width="0.102" text-anchor="middle" dominant-baseline="central">55</text>
<text x="445.30" y="206.20" font-size="4.1" fill="#a8334a" stroke="#a8334a" stroke-width="0.102" text-anchor="middle" dominant-baseline="central">100</text>
<text x="446.70" y="228.10" font-size="4.1" fill="#a8334a" stroke="#a8334a" stroke-width="0.102" text-anchor="middle" dominant-baseline="central">91</text>
<text x="451.80" y="246.40" font-size="4.1" fill="#a8334a" stroke="#a8334a" stroke-width="0.102" text-anchor="middle" dominant-baseline="central">56</text>
<text x="509.40" y="269.80" font-size="4.1" fill="#5c5cae" stroke="#5c5cae" stroke-width="0.102" text-anchor="middle" dominant-baseline="central">100</text>
<text x="573.80" y="150.70" font-size="4.1" fill="#1e1e1e" stroke="#1e1e1e" stroke-width="0.102" text-anchor="middle" dominant-baseline="central">92</text>
<text x="561.40" y="180.40" font-size="4.1" fill="#1e1e1e" stroke="#1e1e1e" stroke-width="0.102" text-anchor="middle" dominant-baseline="central">100</text>
<text x="546.10" y="189.10" font-size="4.1" fill="#1e1e1e" stroke="#1e1e1e" stroke-width="0.102" text-anchor="middle" dominant-baseline="central">100</text>
<text x="613.20" y="169.40" font-size="4.1" fill="#1e1e1e" stroke="#1e1e1e" stroke-width="0.102" text-anchor="middle" dominant-baseline="central">68</text>
<text x="599.30" y="189.90" font-size="4.1" fill="#1e1e1e" stroke="#1e1e1e" stroke-width="0.102" text-anchor="middle" dominant-baseline="central">69</text>
<text x="597.20" y="216.20" font-size="4.1" fill="#1e1e1e" stroke="#1e1e1e" stroke-width="0.102" text-anchor="middle" dominant-baseline="central">59</text>
<text x="524.60" y="52.30" font-size="4.1" fill="#1e1e1e" stroke="#1e1e1e" stroke-width="0.102" text-anchor="middle" dominant-baseline="central">78</text>
<text x="565.50" y="62.30" font-size="4.1" fill="#1e1e1e" stroke="#1e1e1e" stroke-width="0.102" text-anchor="middle" dominant-baseline="central">63</text>
<text x="542.80" y="64.30" font-size="4.1" fill="#1e1e1e" stroke="#1e1e1e" stroke-width="0.102" text-anchor="middle" dominant-baseline="central">100</text>
<text x="561.10" y="82.30" font-size="4.1" fill="#1e1e1e" stroke="#1e1e1e" stroke-width="0.102" text-anchor="middle" dominant-baseline="central">95</text>
<text x="569.90" y="102.00" font-size="4.1" fill="#1e1e1e" stroke="#1e1e1e" stroke-width="0.102" text-anchor="middle" dominant-baseline="central">96</text>
<text x="595.00" y="235.30" font-size="4.1" fill="#1e1e1e" stroke="#1e1e1e" stroke-width="0.102" text-anchor="middle" dominant-baseline="central">93</text>
<text x="0" y="0" font-size="16" fill="#111" transform="translate(370.6 34.6) scale(0.93 1)">B</text>
<text x="379.90" y="34.60" font-size="16" fill="#111" stroke="#111" stroke-width="0.400" text-anchor="start" dominant-baseline="auto">)</text>
<path d="M309.86,504.53A30.00,30.00 0 0 0 313.43,545.29" stroke="#9696ca"/>
<line x1="309.86" y1="504.53" x2="250.36" y2="458.05" stroke="#9696ca"/>
<path d="M250.36,458.05A105.50,105.50 0 0 0 241.50,471.37" stroke="#9696ca"/>
<line x1="241.50" y1="471.37" x2="200.42" y2="448.32" stroke="#9696ca"/>
<text x="196.06" y="445.87" font-size="6.7" fill="#5c5cae" stroke="#5c5cae" stroke-width="0.168" text-anchor="end" dominant-baseline="central" transform="rotate(29.3 196.06 445.87)">MuERV-L</text>
<path d="M250.36,458.05A105.50,105.50 0 0 1 259.16,448.14" stroke="#9696ca"/>
<line x1="259.16" y1="448.14" x2="252.11" y2="441.04" stroke="#9696ca"/>
<path d="M252.11,441.04A115.50,115.50 0 0 0 240.18,454.95" stroke="#9696ca"/>
<line x1="240.18" y1="454.95" x2="210.44" y2="433.27" stroke="#9696ca"/>
<text x="206.40" y="430.32" font-size="6.7" fill="#5c5cae" stroke="#5c5cae" stroke-width="0.168" text-anchor="end" dominant-baseline="central" transform="rotate(36.1 206.40 430.32)">DrFV-1</text>
<path d="M252.11,441.04A115.50,115.50 0 0 1 266.10,429.20" stroke="#9696ca"/>
<line x1="266.10" y1="429.20" x2="260.27" y2="421.08" stroke="#9696ca"/>
<path d="M260.27,421.08A125.50,125.50 0 0 0 247.91,431.22" stroke="#9696ca"/>
<line x1="247.91" y1="431.22" x2="235.29" y2="417.69" stroke="#9696ca"/>
<path d="M235.29,417.69A144.00,144.00 0 0 0 228.19,424.79" stroke="#9696ca"/>
<line x1="228.19" y1="424.79" x2="221.90" y2="418.93" stroke="#9696ca"/>
<text x="218.24" y="415.52" font-size="6.7" fill="#5c5cae" stroke="#5c5cae" stroke-width="0.168" text-anchor="end" dominant-baseline="central" transform="rotate(43.0 218.24 415.52)">HFV</text>
<path d="M235.29,417.69A144.00,144.00 0 0 1 240.75,412.85" stroke="#9696ca"/>
<line x1="240.75" y1="412.85" x2="234.88" y2="405.89" stroke="#9696ca"/>
<text x="231.66" y="402.07" font-size="6.7" fill="#5c5cae" stroke="#5c5cae" stroke-width="0.168" text-anchor="end" dominant-baseline="central" transform="rotate(49.9 231.66 402.07)">SFV-1</text>
<path d="M260.27,421.08A125.50,125.50 0 0 1 274.77,412.09" stroke="#9696ca"/>
<line x1="274.77" y1="412.09" x2="269.86" y2="402.81" stroke="#9696ca"/>
<path d="M269.86,402.81A136.00,136.00 0 0 0 259.03,409.20" stroke="#9696ca"/>
<line x1="259.03" y1="409.20" x2="249.61" y2="394.81" stroke="#9696ca"/>
<text x="246.88" y="390.62" font-size="6.7" fill="#5c5cae" stroke="#5c5cae" stroke-width="0.168" text-anchor="end" dominant-baseline="central" transform="rotate(56.8 246.88 390.62)">FFV</text>
<path d="M269.86,402.81A136.00,136.00 0 0 1 281.02,397.53" stroke="#9696ca"/>
<line x1="281.02" y1="397.53" x2="277.43" y2="388.96" stroke="#9696ca"/>
<path d="M277.43,388.96A145.30,145.30 0 0 0 269.80,392.41" stroke="#9696ca"/>
<line x1="269.80" y1="392.41" x2="266.08" y2="384.77" stroke="#9696ca"/>
<text x="263.89" y="380.27" font-size="6.7" fill="#5c5cae" stroke="#5c5cae" stroke-width="0.168" text-anchor="end" dominant-baseline="central" transform="rotate(64.0 263.89 380.27)">EFV</text>
<path d="M277.43,388.96A145.30,145.30 0 0 1 284.76,386.12" stroke="#9696ca"/>
<line x1="284.76" y1="386.12" x2="282.01" y2="378.39" stroke="#9696ca"/>
<text x="280.33" y="373.68" font-size="6.7" fill="#5c5cae" stroke="#5c5cae" stroke-width="0.168" text-anchor="end" dominant-baseline="central" transform="rotate(70.4 280.33 373.68)">BFV</text>
<line x1="313.43" y1="545.29" x2="307.40" y2="551.98" stroke="#444444"/>
<path d="M307.40,551.98A39.00,39.00 0 0 1 297.52,507.95" stroke="#444444"/>
<line x1="297.52" y1="507.95" x2="192.81" y2="464.15" stroke="#444444"/>
<text x="188.20" y="462.22" font-size="6.7" fill="#1e1e1e" stroke="#1e1e1e" stroke-width="0.168" text-anchor="end" dominant-baseline="central" transform="rotate(22.7 188.20 462.22)">SnRV</text>
<path d="M307.40,551.98A39.00,39.00 0 0 0 352.65,556.98" stroke="#444444"/>
<line x1="352.65" y1="556.98" x2="357.55" y2="565.69" stroke="#444444"/>
<path d="M357.55,565.69A49.00,49.00 0 0 1 307.53,564.55" stroke="#c06878"/>
<line x1="307.53" y1="564.55" x2="292.96" y2="587.88" stroke="#c06878"/>
<path d="M292.96,587.88A76.50,76.50 0 0 1 280.55,578.21" stroke="#c06878"/>
<line x1="280.55" y1="578.21" x2="273.98" y2="585.07" stroke="#c06878"/>
<path d="M273.98,585.07A86.00,86.00 0 0 1 264.10,573.79" stroke="#c06878"/>
<line x1="264.10" y1="573.79" x2="256.19" y2="579.58" stroke="#c06878"/>
<path d="M256.19,579.58A95.80,95.80 0 0 1 246.68,563.49" stroke="#c06878"/>
<line x1="246.68" y1="563.49" x2="238.34" y2="567.37" stroke="#c06878"/>
<path d="M238.34,567.37A105.00,105.00 0 0 1 229.97,540.51" stroke="#c06878"/>
<line x1="229.97" y1="540.51" x2="220.60" y2="542.10" stroke="#c06878"/>
<path d="M220.60,542.10A114.50,114.50 0 0 1 219.00,522.60" stroke="#c06878"/>
<line x1="219.00" y1="522.60" x2="209.90" y2="522.57" stroke="#c06878"/>
<path d="M209.90,522.57A123.60,123.60 0 0 1 210.67,509.22" stroke="#c06878"/>
<line x1="210.67" y1="509.22" x2="201.33" y2="508.17" stroke="#c06878"/>
<path d="M201.33,508.17A133.00,133.00 0 0 1 203.17,496.48" stroke="#c06878"/>
<line x1="203.17" y1="496.48" x2="193.37" y2="494.49" stroke="#c06878"/>
<path d="M193.37,494.49A143.00,143.00 0 0 1 195.50,485.51" stroke="#c06878"/>
<line x1="195.50" y1="485.51" x2="186.62" y2="483.09" stroke="#c06878"/>
<text x="181.80" y="481.78" font-size="6.7" fill="#a8334a" stroke="#a8334a" stroke-width="0.168" text-anchor="end" dominant-baseline="central" transform="rotate(15.2 181.80 481.78)">MuLV</text>
<path d="M193.37,494.49A143.00,143.00 0 0 0 192.00,502.36" stroke="#c06878"/>
<line x1="192.00" y1="502.36" x2="182.99" y2="501.04" stroke="#c06878"/>
<text x="178.05" y="500.32" font-size="6.7" fill="#a8334a" stroke="#a8334a" stroke-width="0.168" text-anchor="end" dominant-baseline="central" transform="rotate(8.3 178.05 500.32)">RCHO-K1</text>
<path d="M201.33,508.17A133.00,133.00 0 0 0 200.52,520.68" stroke="#c06878"/>
<line x1="200.52" y1="520.68" x2="181.42" y2="520.35" stroke="#c06878"/>
<text x="176.42" y="520.26" font-size="6.7" fill="#a8334a" stroke="#a8334a" stroke-width="0.168" text-anchor="end" dominant-baseline="central" transform="rotate(1.0 176.42 520.26)">FeLV</text>
<path d="M209.90,522.57A123.60,123.60 0 0 0 210.55,535.71" stroke="#c06878"/>
<line x1="210.55" y1="535.71" x2="182.21" y2="538.63" stroke="#c06878"/>
<text x="177.23" y="539.15" font-size="6.7" fill="#a8334a" stroke="#a8334a" stroke-width="0.168" text-anchor="end" dominant-baseline="central" transform="rotate(354.1 177.23 539.15)">BAEVM</text>
<path d="M220.60,542.10A114.50,114.50 0 0 0 225.04,559.71" stroke="#c06878"/>
<line x1="225.04" y1="559.71" x2="216.05" y2="562.76" stroke="#c06878"/>
<path d="M216.05,562.76A124.00,124.00 0 0 1 212.58,550.47" stroke="#c06878"/>
<line x1="212.58" y1="550.47" x2="185.86" y2="556.54" stroke="#c06878"/>
<text x="180.99" y="557.65" font-size="6.7" fill="#a8334a" stroke="#a8334a" stroke-width="0.168" text-anchor="end" dominant-baseline="central" transform="rotate(347.2 180.99 557.65)">PERV-MSL</text>
<path d="M216.05,562.76A124.00,124.00 0 0 0 221.03,575.21" stroke="#c06878"/>
<line x1="221.03" y1="575.21" x2="212.41" y2="579.21" stroke="#c06878"/>
<path d="M212.41,579.21A133.50,133.50 0 0 1 207.89,568.22" stroke="#c06878"/>
<line x1="207.89" y1="568.22" x2="190.96" y2="574.32" stroke="#c06878"/>
<text x="186.25" y="576.01" font-size="6.7" fill="#a8334a" stroke="#a8334a" stroke-width="0.168" text-anchor="end" dominant-baseline="central" transform="rotate(340.2 186.25 576.01)">MdEV</text>
<path d="M212.41,579.21A133.50,133.50 0 0 0 218.00,589.95" stroke="#c06878"/>
<line x1="218.00" y1="589.95" x2="209.78" y2="594.72" stroke="#c06878"/>
<path d="M209.78,594.72A143.00,143.00 0 0 1 205.86,587.48" stroke="#c06878"/>
<line x1="205.86" y1="587.48" x2="198.54" y2="591.17" stroke="#c06878"/>
<text x="194.08" y="593.43" font-size="6.7" fill="#a8334a" stroke="#a8334a" stroke-width="0.168" text-anchor="end" dominant-baseline="central" transform="rotate(333.2 194.08 593.43)">GALV</text>
<path d="M209.78,594.72A143.00,143.00 0 0 0 214.95,602.96" stroke="#c06878"/>
<line x1="214.95" y1="602.96" x2="208.07" y2="607.61" stroke="#c06878"/>
<text x="203.92" y="610.40" font-size="6.7" fill="#a8334a" stroke="#a8334a" stroke-width="0.168" text-anchor="end" dominant-baseline="central" transform="rotate(326.0 203.92 610.40)">KoRV</text>
<path d="M238.34,567.37A105.00,105.00 0 0 0 254.38,592.02" stroke="#c06878"/>
<line x1="254.38" y1="592.02" x2="219.56" y2="622.40" stroke="#c06878"/>
<text x="215.79" y="625.68" font-size="6.7" fill="#a8334a" stroke="#a8334a" stroke-width="0.168" text-anchor="end" dominant-baseline="central" transform="rotate(318.9 215.79 625.68)">REV</text>
<path d="M256.19,579.58A95.80,95.80 0 0 0 269.15,593.97" stroke="#c06878"/>
<line x1="269.15" y1="593.97" x2="231.53" y2="635.45" stroke="#c06878"/>
<text x="228.17" y="639.16" font-size="6.7" fill="#a8334a" stroke="#a8334a" stroke-width="0.168" text-anchor="end" dominant-baseline="central" transform="rotate(312.2 228.17 639.16)">HERV-E</text>
<path d="M273.98,585.07A86.00,86.00 0 0 0 284.42,593.62" stroke="#c06878"/>
<line x1="284.42" y1="593.62" x2="247.89" y2="646.17" stroke="#c06878"/>
<text x="245.04" y="650.28" font-size="6.7" fill="#a8334a" stroke="#a8334a" stroke-width="0.168" text-anchor="end" dominant-baseline="central" transform="rotate(304.8 245.04 650.28)">RTVL-Ia</text>
<path d="M292.96,587.88A76.50,76.50 0 0 0 305.46,594.18" stroke="#c06878"/>
<line x1="305.46" y1="594.18" x2="291.54" y2="629.53" stroke="#c06878"/>
<path d="M291.54,629.53A114.50,114.50 0 0 1 279.75,624.10" stroke="#c06878"/>
<line x1="279.75" y1="624.10" x2="262.66" y2="656.24" stroke="#c06878"/>
<text x="260.31" y="660.65" font-size="6.7" fill="#a8334a" stroke="#a8334a" stroke-width="0.168" text-anchor="end" dominant-baseline="central" transform="rotate(298.0 260.31 660.65)">XEN1</text>
<path d="M291.54,629.53A114.50,114.50 0 0 0 304.83,633.85" stroke="#c06878"/>
<line x1="304.83" y1="633.85" x2="302.58" y2="642.57" stroke="#c06878"/>
<path d="M302.58,642.57A123.50,123.50 0 0 1 289.24,638.30" stroke="#c06878"/>
<line x1="289.24" y1="638.30" x2="279.31" y2="664.16" stroke="#c06878"/>
<text x="277.52" y="668.83" font-size="6.7" fill="#a8334a" stroke="#a8334a" stroke-width="0.168" text-anchor="end" dominant-baseline="central" transform="rotate(291.0 277.52 668.83)">WdSV</text>
<path d="M302.58,642.57A123.50,123.50 0 0 0 314.82,645.08" stroke="#c06878"/>
<line x1="314.82" y1="645.08" x2="313.34" y2="654.77" stroke="#c06878"/>
<path d="M313.34,654.77A133.30,133.30 0 0 1 301.25,652.34" stroke="#c06878"/>
<line x1="301.25" y1="652.34" x2="296.82" y2="670.10" stroke="#c06878"/>
<text x="295.62" y="674.95" font-size="6.7" fill="#a8334a" stroke="#a8334a" stroke-width="0.168" text-anchor="end" dominant-baseline="central" transform="rotate(284.0 295.62 674.95)">ZFERV-2</text>
<path d="M313.34,654.77A133.30,133.30 0 0 0 325.13,656.04" stroke="#c06878"/>
<line x1="325.13" y1="656.04" x2="324.51" y2="665.92" stroke="#c06878"/>
<path d="M324.51,665.92A143.20,143.20 0 0 1 316.05,665.13" stroke="#c06878"/>
<line x1="316.05" y1="665.13" x2="315.00" y2="673.67" stroke="#c06878"/>
<text x="314.39" y="678.63" font-size="6.7" fill="#a8334a" stroke="#a8334a" stroke-width="0.168" text-anchor="end" dominant-baseline="central" transform="rotate(277.0 314.39 678.63)">ASSBSV</text>
<path d="M324.51,665.92A143.20,143.20 0 0 0 332.75,666.20" stroke="#c06878"/>
<line x1="332.75" y1="666.20" x2="332.70" y2="675.90" stroke="#c06878"/>
<text x="332.67" y="680.90" font-size="6.7" fill="#a8334a" stroke="#a8334a" stroke-width="0.168" text-anchor="end" dominant-baseline="central" transform="rotate(270.3 332.67 680.90)">ZFERV</text>
<path d="M357.55,565.69A49.00,49.00 0 0 0 382.49,523.86" stroke="#444444"/>
<line x1="382.49" y1="523.86" x2="393.99" y2="524.06" stroke="#444444"/>
<path d="M393.99,524.06A60.50,60.50 0 0 0 389.87,501.02" stroke="#444444"/>
<line x1="389.87" y1="501.02" x2="399.65" y2="497.21" stroke="#444444"/>
<path d="M399.65,497.21A71.00,71.00 0 0 0 392.57,483.61" stroke="#444444"/>
<line x1="392.57" y1="483.61" x2="400.06" y2="478.61" stroke="#444444"/>
<path d="M400.06,478.61A80.00,80.00 0 0 0 391.63,468.03" stroke="#444444"/>
<line x1="391.63" y1="468.03" x2="398.53" y2="461.51" stroke="#444444"/>
<path d="M398.53,461.51A89.50,89.50 0 0 0 387.36,451.52" stroke="#444444"/>
<line x1="387.36" y1="451.52" x2="393.08" y2="443.94" stroke="#444444"/>
<path d="M393.08,443.94A99.00,99.00 0 0 0 381.19,436.25" stroke="#444444"/>
<line x1="381.19" y1="436.25" x2="385.29" y2="428.80" stroke="#444444"/>
<path d="M385.29,428.80A107.50,107.50 0 0 0 373.77,423.33" stroke="#444444"/>
<line x1="373.77" y1="423.33" x2="377.14" y2="414.98" stroke="#444444"/>
<path d="M377.14,414.98A116.50,116.50 0 0 0 364.24,410.63" stroke="#444444"/>
<line x1="364.24" y1="410.63" x2="366.75" y2="401.47" stroke="#444444"/>
<path d="M366.75,401.47A126.00,126.00 0 0 0 354.30,398.73" stroke="#444444"/>
<line x1="354.30" y1="398.73" x2="355.86" y2="389.36" stroke="#444444"/>
<path d="M355.86,389.36A135.50,135.50 0 0 0 343.19,387.85" stroke="#444444"/>
<line x1="343.19" y1="387.85" x2="343.87" y2="378.37" stroke="#444444"/>
<path d="M343.87,378.37A145.00,145.00 0 0 0 335.02,378.01" stroke="#444444"/>
<line x1="335.02" y1="378.01" x2="335.11" y2="368.81" stroke="#444444"/>
<text x="335.13" y="367.01" font-size="6.7" fill="#1e1e1e" stroke="#1e1e1e" stroke-width="0.168" text-anchor="start" dominant-baseline="central" transform="rotate(-89.4 335.13 367.01)">MPMV</text>
<path d="M343.87,378.37A145.00,145.00 0 0 1 352.43,379.24" stroke="#444444"/>
<line x1="352.43" y1="379.24" x2="353.60" y2="370.32" stroke="#444444"/>
<text x="353.84" y="368.53" font-size="6.7" fill="#1e1e1e" stroke="#1e1e1e" stroke-width="0.168" text-anchor="start" dominant-baseline="central" transform="rotate(-82.5 353.84 368.53)">SRV-1</text>
<path d="M355.86,389.36A135.50,135.50 0 0 1 367.20,391.76" stroke="#444444"/>
<line x1="367.20" y1="391.76" x2="371.75" y2="374.03" stroke="#444444"/>
<text x="372.20" y="372.29" font-size="6.7" fill="#1e1e1e" stroke="#1e1e1e" stroke-width="0.168" text-anchor="start" dominant-baseline="central" transform="rotate(-75.6 372.20 372.29)">SERV</text>
<path d="M366.75,401.47A126.00,126.00 0 0 1 379.27,405.61" stroke="#444444"/>
<line x1="379.27" y1="405.61" x2="389.22" y2="380.08" stroke="#444444"/>
<text x="389.88" y="378.40" font-size="6.7" fill="#1e1e1e" stroke="#1e1e1e" stroke-width="0.168" text-anchor="start" dominant-baseline="central" transform="rotate(-68.7 389.88 378.40)">SMRV-H</text>
<path d="M377.14,414.98A116.50,116.50 0 0 1 388.55,420.33" stroke="#444444"/>
<line x1="388.55" y1="420.33" x2="405.94" y2="387.90" stroke="#444444"/>
<text x="406.79" y="386.31" font-size="6.7" fill="#1e1e1e" stroke="#1e1e1e" stroke-width="0.168" text-anchor="start" dominant-baseline="central" transform="rotate(-61.8 406.79 386.31)">JSRV</text>
<path d="M385.29,428.80A107.50,107.50 0 0 1 395.01,434.83" stroke="#444444"/>
<line x1="395.01" y1="434.83" x2="422.18" y2="395.88" stroke="#444444"/>
<text x="423.21" y="394.40" font-size="6.7" fill="#1e1e1e" stroke="#1e1e1e" stroke-width="0.168" text-anchor="start" dominant-baseline="central" transform="rotate(-55.1 423.21 394.40)">MMTV</text>
<path d="M393.08,443.94A99.00,99.00 0 0 1 404.11,453.61" stroke="#444444"/>
<line x1="404.11" y1="453.61" x2="437.28" y2="421.02" stroke="#444444"/>
<path d="M437.28,421.02A145.50,145.50 0 0 0 430.48,414.53" stroke="#444444"/>
<line x1="430.48" y1="414.53" x2="437.48" y2="406.71" stroke="#444444"/>
<text x="438.68" y="405.36" font-size="6.7" fill="#1e1e1e" stroke="#1e1e1e" stroke-width="0.168" text-anchor="start" dominant-baseline="central" transform="rotate(-48.2 438.68 405.36)">HERV-K10</text>
<path d="M437.28,421.02A145.50,145.50 0 0 1 442.47,426.59" stroke="#444444"/>
<line x1="442.47" y1="426.59" x2="450.34" y2="419.63" stroke="#444444"/>
<text x="451.69" y="418.44" font-size="6.7" fill="#1e1e1e" stroke="#1e1e1e" stroke-width="0.168" text-anchor="start" dominant-baseline="central" transform="rotate(-41.5 451.69 418.44)">K-HERV</text>
<path d="M398.53,461.51A89.50,89.50 0 0 1 407.26,472.31" stroke="#444444"/>
<line x1="407.26" y1="472.31" x2="460.91" y2="435.43" stroke="#444444"/>
<text x="462.39" y="434.41" font-size="6.7" fill="#1e1e1e" stroke="#1e1e1e" stroke-width="0.168" text-anchor="start" dominant-baseline="central" transform="rotate(-34.5 462.39 434.41)">PyERV</text>
<path d="M400.06,478.61A80.00,80.00 0 0 1 406.47,490.21" stroke="#444444"/>
<line x1="406.47" y1="490.21" x2="465.39" y2="463.73" stroke="#444444"/>
<path d="M465.39,463.73A144.60,144.60 0 0 0 461.88,456.46" stroke="#444444"/>
<line x1="461.88" y1="456.46" x2="471.11" y2="451.67" stroke="#444444"/>
<text x="472.71" y="450.84" font-size="6.7" fill="#1e1e1e" stroke="#1e1e1e" stroke-width="0.168" text-anchor="start" dominant-baseline="central" transform="rotate(-27.4 472.71 450.84)">LPDV</text>
<path d="M465.39,463.73A144.60,144.60 0 0 1 468.77,471.89" stroke="#444444"/>
<line x1="468.77" y1="471.89" x2="479.15" y2="467.96" stroke="#444444"/>
<text x="480.83" y="467.33" font-size="6.7" fill="#1e1e1e" stroke="#1e1e1e" stroke-width="0.168" text-anchor="start" dominant-baseline="central" transform="rotate(-20.7 480.83 467.33)">RSV</text>
<path d="M399.65,497.21A71.00,71.00 0 0 1 403.79,513.00" stroke="#444444"/>
<line x1="403.79" y1="513.00" x2="458.24" y2="505.25" stroke="#444444"/>
<path d="M458.24,505.25A126.00,126.00 0 0 0 455.81,492.73" stroke="#444444"/>
<line x1="455.81" y1="492.73" x2="484.16" y2="485.72" stroke="#444444"/>
<text x="485.90" y="485.28" font-size="6.7" fill="#1e1e1e" stroke="#1e1e1e" stroke-width="0.168" text-anchor="start" dominant-baseline="central" transform="rotate(-13.9 485.90 485.28)">BLV</text>
<path d="M458.24,505.25A126.00,126.00 0 0 1 459.39,517.72" stroke="#444444"/>
<line x1="459.39" y1="517.72" x2="469.58" y2="517.30" stroke="#444444"/>
<path d="M469.58,517.30A136.20,136.20 0 0 0 468.66,506.17" stroke="#444444"/>
<line x1="468.66" y1="506.17" x2="486.82" y2="503.90" stroke="#444444"/>
<text x="488.60" y="503.68" font-size="6.7" fill="#1e1e1e" stroke="#1e1e1e" stroke-width="0.168" text-anchor="start" dominant-baseline="central" transform="rotate(-7.1 488.60 503.68)">HTLV-1</text>
<path d="M469.58,517.30A136.20,136.20 0 0 1 469.51,530.13" stroke="#444444"/>
<line x1="469.51" y1="530.13" x2="477.90" y2="530.57" stroke="#444444"/>
<path d="M477.90,530.57A144.60,144.60 0 0 0 478.10,522.50" stroke="#444444"/>
<line x1="478.10" y1="522.50" x2="486.20" y2="522.47" stroke="#444444"/>
<path d="M477.90,530.57A144.60,144.60 0 0 1 477.17,539.37" stroke="#444444"/>
<line x1="477.17" y1="539.37" x2="486.21" y2="540.40" stroke="#444444"/>
<text x="488.00" y="540.60" font-size="6.7" fill="#1e1e1e" stroke="#1e1e1e" stroke-width="0.168" text-anchor="start" dominant-baseline="central" transform="rotate(6.5 488.00 540.60)">HTLV-2</text>
<path d="M393.99,524.06A60.50,60.50 0 0 1 389.39,546.15" stroke="#444444"/>
<line x1="389.39" y1="546.15" x2="414.80" y2="556.68" stroke="#444444"/>
<path d="M414.80,556.68A88.00,88.00 0 0 0 419.10,543.39" stroke="#444444"/>
<line x1="419.10" y1="543.39" x2="483.31" y2="558.69" stroke="#444444"/>
<text x="485.06" y="559.11" font-size="6.7" fill="#1e1e1e" stroke="#1e1e1e" stroke-width="0.168" text-anchor="start" dominant-baseline="central" transform="rotate(13.4 485.06 559.11)">EIAV</text>
<path d="M414.80,556.68A88.00,88.00 0 0 1 407.47,570.67" stroke="#444444"/>
<line x1="407.47" y1="570.67" x2="415.46" y2="575.82" stroke="#444444"/>
<path d="M415.46,575.82A97.50,97.50 0 0 0 424.88,556.99" stroke="#444444"/>
<line x1="424.88" y1="556.99" x2="478.22" y2="576.82" stroke="#444444"/>
<text x="479.90" y="577.45" font-size="6.7" fill="#1e1e1e" stroke="#1e1e1e" stroke-width="0.168" text-anchor="start" dominant-baseline="central" transform="rotate(20.4 479.90 577.45)">BIV</text>
<path d="M415.46,575.82A97.50,97.50 0 0 1 401.11,593.25" stroke="#444444"/>
<line x1="401.11" y1="593.25" x2="407.35" y2="599.74" stroke="#444444"/>
<path d="M407.35,599.74A106.50,106.50 0 0 0 419.77,585.45" stroke="#444444"/>
<line x1="419.77" y1="585.45" x2="442.86" y2="602.16" stroke="#444444"/>
<path d="M442.86,602.16A135.00,135.00 0 0 0 449.58,591.92" stroke="#444444"/>
<line x1="449.58" y1="591.92" x2="457.75" y2="596.77" stroke="#444444"/>
<path d="M457.75,596.77A144.50,144.50 0 0 0 461.91,589.27" stroke="#444444"/>
<line x1="461.91" y1="589.27" x2="470.97" y2="593.95" stroke="#444444"/>
<text x="472.57" y="594.78" font-size="6.7" fill="#1e1e1e" stroke="#1e1e1e" stroke-width="0.168" text-anchor="start" dominant-baseline="central" transform="rotate(27.3 472.57 594.78)">VMV</text>
<path d="M457.75,596.77A144.50,144.50 0 0 1 453.01,604.22" stroke="#444444"/>
<line x1="453.01" y1="604.22" x2="461.70" y2="610.12" stroke="#444444"/>
<text x="463.19" y="611.13" font-size="6.7" fill="#1e1e1e" stroke="#1e1e1e" stroke-width="0.168" text-anchor="start" dominant-baseline="central" transform="rotate(34.2 463.19 611.13)">SA-OMVV</text>
<path d="M442.86,602.16A135.00,135.00 0 0 1 435.23,611.75" stroke="#444444"/>
<line x1="435.23" y1="611.75" x2="449.85" y2="624.50" stroke="#444444"/>
<text x="451.21" y="625.68" font-size="6.7" fill="#1e1e1e" stroke="#1e1e1e" stroke-width="0.168" text-anchor="start" dominant-baseline="central" transform="rotate(41.1 451.21 625.68)">CAEV</text>
<path d="M407.35,599.74A106.50,106.50 0 0 1 391.19,612.52" stroke="#444444"/>
<line x1="391.19" y1="612.52" x2="396.07" y2="620.09" stroke="#444444"/>
<path d="M396.07,620.09A115.50,115.50 0 0 0 410.63,608.97" stroke="#444444"/>
<line x1="410.63" y1="608.97" x2="436.61" y2="637.92" stroke="#444444"/>
<text x="437.82" y="639.26" font-size="6.7" fill="#1e1e1e" stroke="#1e1e1e" stroke-width="0.168" text-anchor="start" dominant-baseline="central" transform="rotate(48.1 437.82 639.26)">FIV</text>
<path d="M396.07,620.09A115.50,115.50 0 0 1 379.74,628.84" stroke="#444444"/>
<line x1="379.74" y1="628.84" x2="383.34" y2="637.09" stroke="#444444"/>
<path d="M383.34,637.09A124.50,124.50 0 0 0 398.37,629.27" stroke="#444444"/>
<line x1="398.37" y1="629.27" x2="408.42" y2="645.74" stroke="#444444"/>
<path d="M408.42,645.74A143.80,143.80 0 0 0 415.77,640.94" stroke="#444444"/>
<line x1="415.77" y1="640.94" x2="421.04" y2="648.48" stroke="#444444"/>
<text x="422.07" y="649.96" font-size="6.7" fill="#1e1e1e" stroke="#1e1e1e" stroke-width="0.168" text-anchor="start" dominant-baseline="central" transform="rotate(55.1 422.07 649.96)">HIV-2</text>
<path d="M408.42,645.74A143.80,143.80 0 0 1 401.01,649.97" stroke="#444444"/>
<line x1="401.01" y1="649.97" x2="405.47" y2="658.36" stroke="#444444"/>
<text x="406.32" y="659.95" font-size="6.7" fill="#1e1e1e" stroke="#1e1e1e" stroke-width="0.168" text-anchor="start" dominant-baseline="central" transform="rotate(62.0 406.32 659.95)">SIVMAC</text>
<path d="M383.34,637.09A124.50,124.50 0 0 1 367.40,642.80" stroke="#444444"/>
<line x1="367.40" y1="642.80" x2="369.90" y2="651.65" stroke="#444444"/>
<path d="M369.90,651.65A133.70,133.70 0 0 0 380.76,648.07" stroke="#444444"/>
<line x1="380.76" y1="648.07" x2="387.51" y2="665.94" stroke="#444444"/>
<text x="388.15" y="667.62" font-size="6.7" fill="#1e1e1e" stroke="#1e1e1e" stroke-width="0.168" text-anchor="start" dominant-baseline="central" transform="rotate(69.3 388.15 667.62)">HIV-1</text>
<path d="M369.90,651.65A133.70,133.70 0 0 1 358.55,654.33" stroke="#444444"/>
<line x1="358.55" y1="654.33" x2="360.35" y2="663.76" stroke="#444444"/>
<path d="M360.35,663.76A143.30,143.30 0 0 0 367.68,662.16" stroke="#444444"/>
<line x1="367.68" y1="662.16" x2="370.00" y2="671.58" stroke="#444444"/>
<text x="370.42" y="673.33" font-size="6.7" fill="#1e1e1e" stroke="#1e1e1e" stroke-width="0.168" text-anchor="start" dominant-baseline="central" transform="rotate(76.2 370.42 673.33)">SIVAGM</text>
<path d="M360.35,663.76A143.30,143.30 0 0 1 350.47,665.29" stroke="#444444"/>
<line x1="350.47" y1="665.29" x2="351.50" y2="673.93" stroke="#444444"/>
<text x="351.71" y="675.72" font-size="6.7" fill="#1e1e1e" stroke="#1e1e1e" stroke-width="0.168" text-anchor="start" dominant-baseline="central" transform="rotate(83.2 351.71 675.72)">SIVMND</text>
<text x="489.00" y="523.60" font-size="6.7" fill="#1e1e1e" stroke="#1e1e1e" stroke-width="0.168" text-anchor="start" dominant-baseline="central">STcLV2-</text>
<text x="489.00" y="530.60" font-size="6.7" fill="#1e1e1e" stroke="#1e1e1e" stroke-width="0.168" text-anchor="start" dominant-baseline="central">PP1664</text>
<path d="M332.83,331.90A192.00,192.00 0 0 1 494.60,418.37" stroke="#444444"/>
<path d="M501.09,428.96A192.00,192.00 0 0 1 515.83,461.64" stroke="#444444"/>
<path d="M519.99,475.47A192.00,192.00 0 0 1 524.74,547.50" stroke="#444444"/>
<path d="M522.09,563.43A192.00,192.00 0 0 1 348.98,715.33" stroke="#444444"/>
<path d="M336.53,715.89A192.00,192.00 0 0 1 238.15,690.15" stroke="#c06878"/>
<path d="M227.61,683.59A192.00,192.00 0 0 1 149.46,471.62" stroke="#c06878"/>
<path d="M164.74,433.65A192.00,192.00 0 0 1 172.65,420.14" stroke="#9696ca"/>
<path d="M177.69,412.68A192.00,192.00 0 0 1 284.08,338.56" stroke="#9696ca"/>
<text x="438.90" y="352.20" font-size="8.5" fill="#1e1e1e" stroke="#1e1e1e" stroke-width="0.213" text-anchor="middle" dominant-baseline="central" transform="rotate(31.7 438.90 352.20)">Betaretrovirus</text>
<text x="517.80" y="440.50" font-size="8.5" fill="#1e1e1e" stroke="#1e1e1e" stroke-width="0.213" text-anchor="middle" dominant-baseline="central" transform="rotate(65.9 517.80 440.50)">Alpharetrovirus</text>
<text x="536.60" y="508.90" font-size="8.5" fill="#1e1e1e" stroke="#1e1e1e" stroke-width="0.213" text-anchor="middle" dominant-baseline="central" transform="rotate(86.0 536.60 508.90)">Deltaretrovirus</text>
<text x="462.50" y="673.70" font-size="8.5" fill="#1e1e1e" stroke="#1e1e1e" stroke-width="0.213" text-anchor="middle" dominant-baseline="central" transform="rotate(-40.4 462.50 673.70)">Lentivirus</text>
<text x="275.00" y="710.50" font-size="8.5" fill="#a8334a" stroke="#a8334a" stroke-width="0.213" text-anchor="middle" dominant-baseline="central" transform="rotate(17.3 275.00 710.50)">Epsilonretrovirus</text>
<text x="161.60" y="617.30" font-size="8.3" fill="#a8334a" stroke="#a8334a" stroke-width="0.208" text-anchor="middle" dominant-baseline="central" transform="rotate(60.8 161.60 617.30)">Gammaretrovirus</text>
<text x="158.70" y="423.50" font-size="8.5" fill="#5c5cae" stroke="#5c5cae" stroke-width="0.213" text-anchor="middle" dominant-baseline="central" transform="rotate(-60.3 158.70 423.50)">ERV-L</text>
<text x="209.50" y="367.40" font-size="8.5" fill="#5c5cae" stroke="#5c5cae" stroke-width="0.213" text-anchor="middle" dominant-baseline="central" transform="rotate(-38.5 209.50 367.40)">Spumaretrovirus</text>
<text x="375.30" y="512.60" font-size="7" fill="#1e1e1e" stroke="#1e1e1e" stroke-width="0.175" text-anchor="middle" dominant-baseline="central">Class 2</text>
<text x="310.00" y="583.50" font-size="7" fill="#a8334a" stroke="#a8334a" stroke-width="0.175" text-anchor="middle" dominant-baseline="central">Class 1</text>
<text x="274.30" y="459.50" font-size="7" fill="#5c5cae" stroke="#5c5cae" stroke-width="0.175" text-anchor="middle" dominant-baseline="central">Class 3</text>
<text x="337.50" y="380.80" font-size="4.1" fill="#1e1e1e" stroke="#1e1e1e" stroke-width="0.102" text-anchor="middle" dominant-baseline="central">100</text>
<text x="349.20" y="392.00" font-size="4.1" fill="#1e1e1e" stroke="#1e1e1e" stroke-width="0.102" text-anchor="middle" dominant-baseline="central">100</text>
<text x="361.60" y="404.10" font-size="4.1" fill="#1e1e1e" stroke="#1e1e1e" stroke-width="0.102" text-anchor="middle" dominant-baseline="central">98</text>
<text x="370.40" y="416.50" font-size="4.1" fill="#1e1e1e" stroke="#1e1e1e" stroke-width="0.102" text-anchor="middle" dominant-baseline="central">67</text>
<text x="378.40" y="429.70" font-size="4.1" fill="#1e1e1e" stroke="#1e1e1e" stroke-width="0.102" text-anchor="middle" dominant-baseline="central">15</text>
<text x="386.10" y="445.00" font-size="4.1" fill="#1e1e1e" stroke="#1e1e1e" stroke-width="0.102" text-anchor="middle" dominant-baseline="central">94</text>
<text x="391.20" y="461.80" font-size="4.1" fill="#1e1e1e" stroke="#1e1e1e" stroke-width="0.102" text-anchor="middle" dominant-baseline="central">99</text>
<text x="429.90" y="420.90" font-size="4.1" fill="#1e1e1e" stroke="#1e1e1e" stroke-width="0.102" text-anchor="middle" dominant-baseline="central">100</text>
<text x="391.90" y="477.40" font-size="4.1" fill="#1e1e1e" stroke="#1e1e1e" stroke-width="0.102" text-anchor="middle" dominant-baseline="central">100</text>
<text x="392.60" y="496.40" font-size="4.1" fill="#1e1e1e" stroke="#1e1e1e" stroke-width="0.102" text-anchor="middle" dominant-baseline="central">68</text>
<text x="459.10" y="461.40" font-size="4.1" fill="#1e1e1e" stroke="#1e1e1e" stroke-width="0.102" text-anchor="middle" dominant-baseline="central">100</text>
<text x="453.10" y="502.40" font-size="4.1" fill="#1e1e1e" stroke="#1e1e1e" stroke-width="0.102" text-anchor="middle" dominant-baseline="central">100</text>
<text x="387.90" y="520.40" font-size="4.1" fill="#1e1e1e" stroke="#1e1e1e" stroke-width="0.102" text-anchor="middle" dominant-baseline="central">100</text>
<text x="464.30" y="514.80" font-size="4.1" fill="#1e1e1e" stroke="#1e1e1e" stroke-width="0.102" text-anchor="middle" dominant-baseline="central">100</text>
<text x="473.80" y="527.70" font-size="4.1" fill="#1e1e1e" stroke="#1e1e1e" stroke-width="0.102" text-anchor="middle" dominant-baseline="central">100</text>
<text x="412.30" y="552.10" font-size="4.1" fill="#1e1e1e" stroke="#1e1e1e" stroke-width="0.102" text-anchor="middle" dominant-baseline="central">100</text>
<text x="413.80" y="571.10" font-size="4.1" fill="#1e1e1e" stroke="#1e1e1e" stroke-width="0.102" text-anchor="middle" dominant-baseline="central">76</text>
<text x="406.50" y="593.70" font-size="4.1" fill="#1e1e1e" stroke="#1e1e1e" stroke-width="0.102" text-anchor="middle" dominant-baseline="central">72</text>
<text x="441.50" y="595.60" font-size="4.1" fill="#1e1e1e" stroke="#1e1e1e" stroke-width="0.102" text-anchor="middle" dominant-baseline="central">100</text>
<text x="456.10" y="592.30" font-size="4.1" fill="#1e1e1e" stroke="#1e1e1e" stroke-width="0.102" text-anchor="middle" dominant-baseline="central">99</text>
<text x="398.40" y="615.50" font-size="4.1" fill="#1e1e1e" stroke="#1e1e1e" stroke-width="0.102" text-anchor="middle" dominant-baseline="central">67</text>
<text x="385.30" y="632.30" font-size="4.1" fill="#1e1e1e" stroke="#1e1e1e" stroke-width="0.102" text-anchor="middle" dominant-baseline="central">100</text>
<text x="410.10" y="640.40" font-size="4.1" fill="#1e1e1e" stroke="#1e1e1e" stroke-width="0.102" text-anchor="middle" dominant-baseline="central">100</text>
<text x="373.60" y="647.70" font-size="4.1" fill="#1e1e1e" stroke="#1e1e1e" stroke-width="0.102" text-anchor="middle" dominant-baseline="central">72</text>
<text x="362.60" y="660.80" font-size="4.1" fill="#1e1e1e" stroke="#1e1e1e" stroke-width="0.102" text-anchor="middle" dominant-baseline="central">82</text>
<text x="290.40" y="581.60" font-size="4.1" fill="#a8334a" stroke="#a8334a" stroke-width="0.102" text-anchor="middle" dominant-baseline="central">100</text>
<text x="273.60" y="579.40" font-size="4.1" fill="#a8334a" stroke="#a8334a" stroke-width="0.102" text-anchor="middle" dominant-baseline="central">96</text>
<text x="257.50" y="573.60" font-size="4.1" fill="#a8334a" stroke="#a8334a" stroke-width="0.102" text-anchor="middle" dominant-baseline="central">100</text>
<text x="240.10" y="561.90" font-size="4.1" fill="#a8334a" stroke="#a8334a" stroke-width="0.102" text-anchor="middle" dominant-baseline="central">87</text>
<text x="225.30" y="537.40" font-size="4.1" fill="#a8334a" stroke="#a8334a" stroke-width="0.102" text-anchor="middle" dominant-baseline="central">100</text>
<text x="219.60" y="559.00" font-size="4.1" fill="#a8334a" stroke="#a8334a" stroke-width="0.102" text-anchor="middle" dominant-baseline="central">99</text>
<text x="216.00" y="574.30" font-size="4.1" fill="#a8334a" stroke="#a8334a" stroke-width="0.102" text-anchor="middle" dominant-baseline="central">100</text>
<text x="211.60" y="589.60" font-size="4.1" fill="#a8334a" stroke="#a8334a" stroke-width="0.102" text-anchor="middle" dominant-baseline="central">100</text>
<text x="198.20" y="491.90" font-size="4.1" fill="#a8334a" stroke="#a8334a" stroke-width="0.102" text-anchor="middle" dominant-baseline="central">80</text>
<text x="206.00" y="505.00" font-size="4.1" fill="#a8334a" stroke="#a8334a" stroke-width="0.102" text-anchor="middle" dominant-baseline="central">100</text>
<text x="288.20" y="623.40" font-size="4.1" fill="#a8334a" stroke="#a8334a" stroke-width="0.102" text-anchor="middle" dominant-baseline="central">63</text>
<text x="297.70" y="638.20" font-size="4.1" fill="#a8334a" stroke="#a8334a" stroke-width="0.102" text-anchor="middle" dominant-baseline="central">66</text>
<text x="307.90" y="650.40" font-size="4.1" fill="#a8334a" stroke="#a8334a" stroke-width="0.102" text-anchor="middle" dominant-baseline="central">100</text>
<text x="321.00" y="662.00" font-size="4.1" fill="#a8334a" stroke="#a8334a" stroke-width="0.102" text-anchor="middle" dominant-baseline="central">94</text>
<text x="240.90" y="418.20" font-size="4.1" fill="#5c5cae" stroke="#5c5cae" stroke-width="0.102" text-anchor="middle" dominant-baseline="central">100</text>
<text x="285.40" y="394.10" font-size="4.1" fill="#5c5cae" stroke="#5c5cae" stroke-width="0.102" text-anchor="middle" dominant-baseline="central">100</text>
<text x="277.40" y="407.20" font-size="4.1" fill="#5c5cae" stroke="#5c5cae" stroke-width="0.102" text-anchor="middle" dominant-baseline="central">55</text>
<text x="267.90" y="421.80" font-size="4.1" fill="#5c5cae" stroke="#5c5cae" stroke-width="0.102" text-anchor="middle" dominant-baseline="central">100</text>
<text x="257.70" y="440.80" font-size="4.1" fill="#5c5cae" stroke="#5c5cae" stroke-width="0.102" text-anchor="middle" dominant-baseline="central">99</text>
<text x="255.20" y="457.60" font-size="4.1" fill="#5c5cae" stroke="#5c5cae" stroke-width="0.102" text-anchor="middle" dominant-baseline="central">93</text>
<text x="0" y="0" font-size="16" fill="#111" transform="translate(109.0 386.7) scale(0.95 1)">C</text>
<text x="119.30" y="386.70" font-size="16" fill="#111" stroke="#111" stroke-width="0.400" text-anchor="start" dominant-baseline="auto">)</text>
</g>
</svg>
</body></html>
